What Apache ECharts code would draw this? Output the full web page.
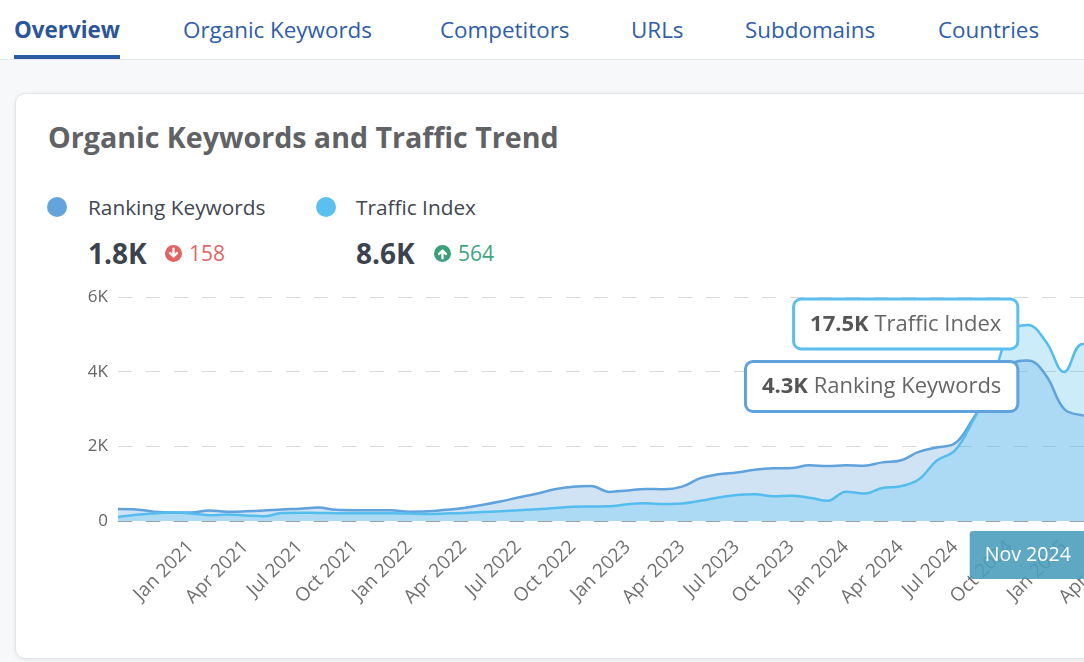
<!DOCTYPE html>
<html>
<head>
<meta charset="utf-8">
<title>Organic Keywords and Traffic Trend</title>
<script src="https://cdn.jsdelivr.net/npm/echarts@6/dist/echarts.min.js"></script>
<style>
	*{margin:0;padding:0;box-sizing:border-box;}
	html,body{width:1084px;height:662px;overflow:hidden;background:#f7f8fa;font-family:'Open Sans',sans-serif;}
	#tabs{position:absolute;left:0;top:0;width:1084px;height:60px;background:#fff;border-bottom:1px solid #e3e6ea;}
	#tabs span{position:absolute;top:15px;font-size:22.4px;line-height:30px;color:#2f5ea8;white-space:nowrap;}
	#tabs span.on{font-weight:700;color:#2a559b;}
	#tabs .bar{position:absolute;left:14px;top:55px;width:106px;height:4px;background:#2d5ba3;}
	#card{position:absolute;left:15px;top:93px;width:1160px;height:566px;background:#fff;border:1px solid #e2e4e8;border-radius:10px;box-shadow:0 1px 5px rgba(0,0,0,.07);}
	.abs{position:absolute;white-space:nowrap;}
	#title{left:48px;top:117px;font-size:28.6px;line-height:40px;font-weight:700;color:#606265;}
	.dot{width:20px;height:20px;border-radius:10px;}
	.lg{font-size:20.8px;line-height:28px;color:#3f4652;top:193px;}
	.big{font-size:28px;line-height:36px;font-weight:700;color:#3c4350;top:235px;}
	.delta{font-size:21px;line-height:28px;top:239px;}
	.ico{width:17px;height:17px;top:245px;}
	#chart{position:absolute;left:0;top:270px;width:1200px;height:392px;}
</style>
</head>
<body>
	<div id="tabs">
		<span class="on" style="left:14px">Overview</span>
		<span style="left:183px">Organic Keywords</span>
		<span style="left:440px">Competitors</span>
		<span style="left:631px">URLs</span>
		<span style="left:745px">Subdomains</span>
		<span style="left:938px">Countries</span>
		<div class="bar"></div>
	</div>
	<div id="card"></div>
	<div class="abs" id="title">Organic Keywords and Traffic Trend</div>

	<div class="abs dot" style="left:47px;top:197px;background:#63a4dc"></div>
	<div class="abs lg" style="left:88px">Ranking Keywords</div>
	<div class="abs dot" style="left:316px;top:197px;background:#5bbfef"></div>
	<div class="abs lg" style="left:356px">Traffic Index</div>

	<div class="abs big" style="left:88px">1.8K</div>
	<svg class="abs ico" style="left:165px" viewBox="0 0 16 16">
		<circle cx="8" cy="8" r="8" fill="#e06462"/>
		<path d="M8 3.5v7M4.8 7.6L8 10.8l3.2-3.2" stroke="#fff" stroke-width="2.2" fill="none" stroke-linecap="round" stroke-linejoin="round"/>
	</svg>
	<div class="abs delta" style="left:189px;color:#e06666">158</div>

	<div class="abs big" style="left:356px">8.6K</div>
	<svg class="abs ico" style="left:434px" viewBox="0 0 16 16">
		<circle cx="8" cy="8" r="8" fill="#3b9f7c"/>
		<path d="M8 12.5v-7M4.8 8.4L8 5.2l3.2 3.2" stroke="#fff" stroke-width="2.2" fill="none" stroke-linecap="round" stroke-linejoin="round"/>
	</svg>
	<div class="abs delta" style="left:458px;color:#3ea57f">564</div>

	<div id="chart"></div>

<script type="text/javascript">
	// monthly categories
	var months = ['Sep 2020','Oct 2020','Nov 2020','Dec 2020',
		'Jan 2021','Feb 2021','Mar 2021','Apr 2021','May 2021','Jun 2021','Jul 2021','Aug 2021','Sep 2021','Oct 2021','Nov 2021','Dec 2021',
		'Jan 2022','Feb 2022','Mar 2022','Apr 2022','May 2022','Jun 2022','Jul 2022','Aug 2022','Sep 2022','Oct 2022','Nov 2022','Dec 2022',
		'Jan 2023','Feb 2023','Mar 2023','Apr 2023','May 2023','Jun 2023','Jul 2023','Aug 2023','Sep 2023','Oct 2023','Nov 2023','Dec 2023',
		'Jan 2024','Feb 2024','Mar 2024','Apr 2024','May 2024','Jun 2024','Jul 2024','Aug 2024','Sep 2024','Oct 2024','Nov 2024','Dec 2024',
		'Jan 2025','Feb 2025','Mar 2025','Apr 2025','May 2025'];

	// months that get a tick label
	var labelMonths = ['Jan 2021','Apr 2021','Jul 2021','Oct 2021','Jan 2022','Apr 2022','Jul 2022','Oct 2022',
		'Jan 2023','Apr 2023','Jul 2023','Oct 2023','Jan 2024','Apr 2024','Jul 2024','Oct 2024','Jan 2025','Apr 2025'];

	var rankingKeywords = [320,310,250,230,
		230,280,250,260,280,310,330,360,300,290,290,290,
		250,260,300,350,430,520,630,730,850,920,940,780,
		820,860,850,920,1150,1250,1300,1370,1410,1420,1490,1470,
		1490,1480,1570,1620,1850,1970,2080,2750,3500,4190,4300,3900,
		3000,2830,2780,2700,2650];

	var trafficIndex = [360,550,680,780,
		660,520,570,500,420,710,740,720,700,690,690,690,
		660,630,670,720,800,870,950,1050,1150,1270,1300,1310,
		1500,1580,1520,1560,1800,2100,2330,2380,2200,2250,2080,1800,
		2620,2450,2950,3100,3700,5400,6300,9000,12300,16800,17500,16000,
		13300,15800,15600,15200,14800];

	var keywordTicks = [0, 2000, 4000, 6000];
	var trafficMax = 20000;
	var pointerMonth = 'Nov 2024';

	function fmtK(v){
		if(v === 0) return '0';
		var k = v / 1000;
		return (Math.round(k * 10) / 10) + 'K';
	}

	// callout box on the peak of a series
	function callout(name, color, offsetY){
		return {
			symbol: 'circle', symbolSize: 1,
			itemStyle: {color: 'rgba(0,0,0,0)'},
			data: [{type: 'max'}],
			label: {
				show: true, position: 'left', distance: 11, offset: [0, offsetY],
				formatter: function(p){ return '{b|' + fmtK(p.value) + '} ' + name; },
				backgroundColor: '#fff', borderColor: color, borderWidth: 3, borderRadius: 6,
				padding: [13, 15, 12, 15], color: '#666', fontSize: 22,
				rich: {b: {fontWeight: 'bold', fontSize: 22, color: '#555'}}
			}
		};
	}

	var chart = echarts.init(document.getElementById('chart'));
	var option = {
		animation: false,
		textStyle: {fontFamily: 'Open Sans'},
		tooltip: {show: false, triggerOn: 'none'},
		grid: {left: 118, top: 27, width: 1019, height: 224},
		xAxis: {
			type: 'category',
			data: months,
			boundaryGap: false,
			z: 5,
			axisLine: {lineStyle: {color: 'rgba(70,95,115,0.45)', type: [14, 14], width: 1}},
			axisTick: {show: false},
			axisLabel: {
				rotate: 45, margin: 23, fontSize: 19, color: '#707070',
				interval: function(i, v){ return labelMonths.indexOf(v) >= 0; }
			},
			axisPointer: {
				show: true,
				type: 'line',
				value: months.indexOf(pointerMonth),
				status: 'show',
				snap: true,
				triggerTooltip: false,
				lineStyle: {opacity: 0},
				label: {
					show: true, backgroundColor: 'rgba(78,158,188,0.9)', color: '#fff',
					fontSize: 19.6, padding: [14, 15, 14, 15], margin: 10
				}
			}
		},
		yAxis: [
			{
				type: 'value',
				min: keywordTicks[0],
				max: keywordTicks[keywordTicks.length - 1],
				interval: keywordTicks[1] - keywordTicks[0],
				axisLine: {show: false},
				axisTick: {show: false},
				axisLabel: {fontSize: 17, color: '#666', margin: 10, formatter: fmtK},
				splitLine: {lineStyle: {type: [14, 14], color: '#d9d9d9'}}
			},
			{type: 'value', min: 0, max: trafficMax, show: false, splitLine: {show: false}}
		],
		series: [
			{
				name: 'Ranking Keywords',
				type: 'line',
				data: rankingKeywords,
				smooth: 0.4,
				symbol: 'none',
				lineStyle: {color: '#5fa2dc', width: 2.5},
				itemStyle: {color: '#5fa2dc'},
				areaStyle: {color: 'rgba(95,162,220,0.3)', opacity: 1},
				markPoint: callout('Ranking Keywords', '#5fa2dc', 26)
			},
			{
				name: 'Traffic Index',
				type: 'line',
				yAxisIndex: 1,
				data: trafficIndex,
				smooth: 0.4,
				symbol: 'none',
				lineStyle: {color: '#55bdee', width: 2.5},
				itemStyle: {color: '#55bdee'},
				areaStyle: {color: 'rgba(91,191,239,0.3)', opacity: 1},
				markPoint: callout('Traffic Index', '#5bbfef', -1)
			}
		]
	};
	chart.setOption(option);
</script>
</body>
</html>
